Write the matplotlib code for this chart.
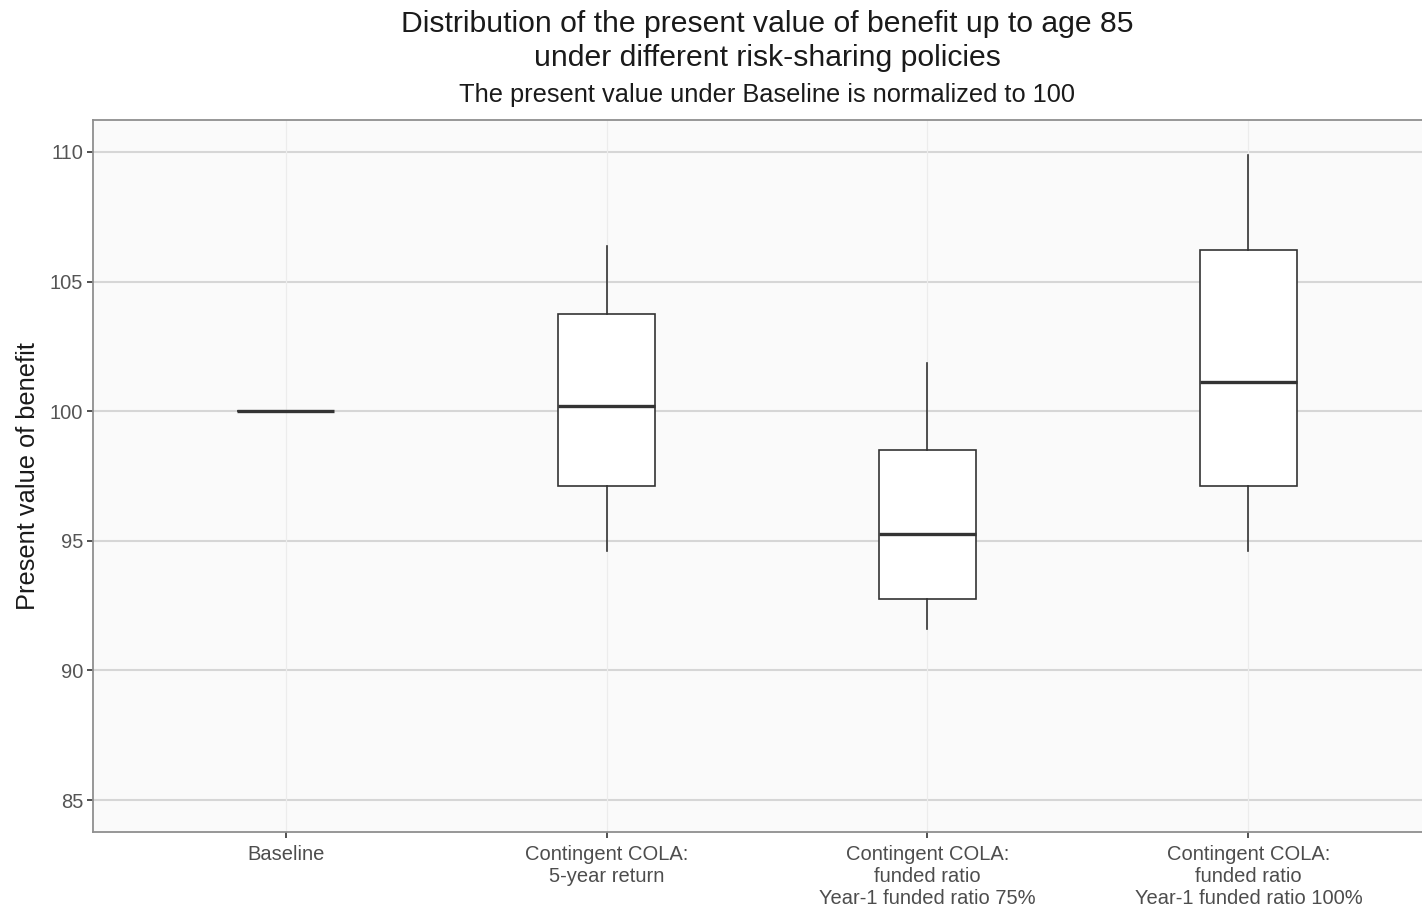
import matplotlib.pyplot as plt

plt.rcParams['font.family'] = ['Liberation Sans', 'DejaVu Sans']

# five-number summaries per policy
policies = ['Baseline',
            'Contingent COLA:\n5-year return',
            'Contingent COLA:\nfunded ratio\nYear-1 funded ratio 75%',
            'Contingent COLA:\nfunded ratio\nYear-1 funded ratio 100%']
whis_lo = [100.0, 94.62, 91.58, 94.62]
q1 = [100.0, 97.13, 92.77, 97.13]
med = [100.0, 100.21, 95.28, 101.14]
q3 = [100.0, 103.76, 98.52, 106.22]
whis_hi = [100.0, 106.38, 101.87, 109.88]

y_ticks = [85, 90, 95, 100, 105, 110]

fig = plt.figure(figsize=(14.22, 9.08), dpi=100)
ax = fig.add_axes([93 / 1422, 76 / 908, 1348 / 1422, 712 / 908])
ax.set_facecolor('#fafafa')

stats = []
for i in range(len(policies)):
    stats.append({'whislo': whis_lo[i], 'q1': q1[i], 'med': med[i],
                  'q3': q3[i], 'whishi': whis_hi[i], 'fliers': []})

line_col = '#333333'
ax.bxp(stats, positions=range(1, len(policies) + 1), widths=0.3,
       showcaps=False, patch_artist=True,
       boxprops=dict(facecolor='white', edgecolor=line_col, linewidth=1.2),
       whiskerprops=dict(color=line_col, linewidth=1.2),
       medianprops=dict(color=line_col, linewidth=2.4, solid_capstyle='butt'),
       zorder=3)

ax.set_xlim(0.4, 4.6)
ax.set_ylim(83.77, 111.23)
ax.set_yticks(y_ticks)
ax.set_xticks(range(1, len(policies) + 1))
ax.set_xticklabels(policies, fontsize=14.5, color='#4d4d4d', linespacing=1.2)
ax.tick_params(axis='y', labelsize=14.5, labelcolor='#555555', pad=3)
ax.tick_params(axis='x', pad=5)
ax.tick_params(length=4, width=1.2, color='#333333')

# grid: strong horizontal, faint vertical
for y in y_ticks:
    ax.axhline(y, color='#d6d6d6', linewidth=1.5, zorder=1)
for x in range(1, len(policies) + 1):
    ax.axvline(x, color='#ececec', linewidth=0.9, zorder=1)

for sp in ax.spines.values():
    sp.set_color('#8f8f8f')
    sp.set_linewidth(1.3)

ax.set_ylabel('Present value of benefit', fontsize=18.3, color='#1a1a1a', labelpad=7)

ax.text(0.5, 1.0 + 79 / 712, 'Distribution of the present value of benefit up to age 85\n'
        'under different risk-sharing policies', transform=ax.transAxes,
        ha='center', va='center', fontsize=21.7, linespacing=1.25, color='#1a1a1a')
ax.text(0.5, 1.0 + 25 / 712, 'The present value under Baseline is normalized to 100',
        transform=ax.transAxes, ha='center', va='center', fontsize=18.3, color='#1a1a1a')

fig.savefig('out.png', dpi=100)
